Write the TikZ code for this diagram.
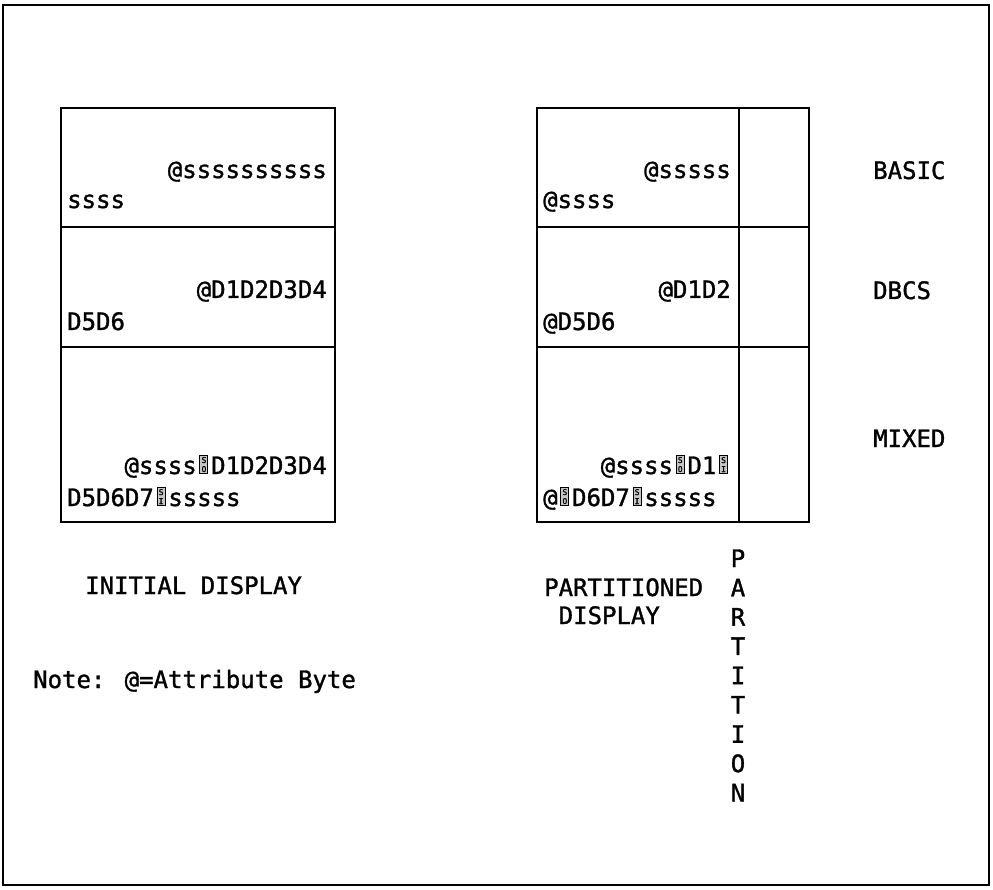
\documentclass[tikz,border=0pt]{standalone}
\usepackage{fontspec}
\setmainfont{DejaVu Sans Mono}[BoldFont=DejaVu Sans Mono, BoldFeatures={FakeBold=1.3}]
\newcommand\ctrlch[1]{\makebox[0.602em]{\rlap{\color{black}\rule{9pt}{19pt}}\rlap{\hspace{1pt}\raisebox{1pt}{\color{gray!45}\rule{7pt}{17pt}}}\makebox[9pt]{\raisebox{2pt}{\fontsize{8}{8}\selectfont\shortstack{S\\#1}}}}}
\begin{document}
\begin{tikzpicture}[x=1pt,y=-1pt,
  txt/.style={inner sep=0pt, font=\fontsize{24}{29}\selectfont\bfseries},
  boxline/.style={draw, line width=1.8pt}]
\useasboundingbox (0,0) rectangle (993,890);
\draw[line width=1.5pt] (3,5) rectangle (989,885);
% initial display
\draw[boxline] (61,108) rectangle (335,522);
\draw[boxline] (61,227) -- (335,227);
\draw[boxline] (61,347) -- (335,347);
% partitioned display
\draw[boxline] (537,108) rectangle (809,522);
\draw[boxline] (537,227) -- (809,227);
\draw[boxline] (537,347) -- (809,347);
\draw[boxline] (739,108) -- (739,522);
% left texts
\node[txt, anchor=base east] (l1a) at (327,178) {@ssssssssss};
\node[txt, anchor=base west] (l1b) at (67,208) {ssss};
\node[txt, anchor=base east] (l2a) at (327,298) {@D1D2D3D4};
\node[txt, anchor=base west] (l2b) at (67,330) {D5D6};
\node[txt, anchor=base east] (l3a) at (327,474) {@ssss\ctrlch{O}D1D2D3D4};
\node[txt, anchor=base west] (l3b) at (67,506) {D5D6D7\ctrlch{I}sssss};
% right texts
\node[txt, anchor=base east] (r1a) at (731,178) {@sssss};
\node[txt, anchor=base west] (r1b) at (543,208) {@ssss};
\node[txt, anchor=base east] (r2a) at (731,298) {@D1D2};
\node[txt, anchor=base west] (r2b) at (543,330) {@D5D6};
\node[txt, anchor=base east] (r3a) at (731,474) {@ssss\ctrlch{O}D1\ctrlch{I}};
\node[txt, anchor=base west] (r3b) at (543,506) {@\ctrlch{O}D6D7\ctrlch{I}sssss};
% side labels
\node[txt, anchor=base west] (basic) at (873,179) {BASIC};
\node[txt, anchor=base west] (dbcs) at (873,299) {DBCS};
\node[txt, anchor=base west] (mixed) at (873,447) {MIXED};
% captions
\node[txt, anchor=base west] (cap1) at (85,594) {INITIAL DISPLAY};
\node[txt, anchor=base west] (cap2a) at (544,596) {PARTITIONED};
\node[txt, anchor=base west] (cap2b) at (558.5,624) {DISPLAY};
\node[txt, anchor=base west] (note) at (33,688) {Note: @=Attribute Byte};
\foreach \c [count=\i] in {P,A,R,T,I,T,I,O,N}
  \node[txt, anchor=base] (p\i) at (738,{567+29.3*(\i-1)}) {\c};
\end{tikzpicture}
\end{document}
